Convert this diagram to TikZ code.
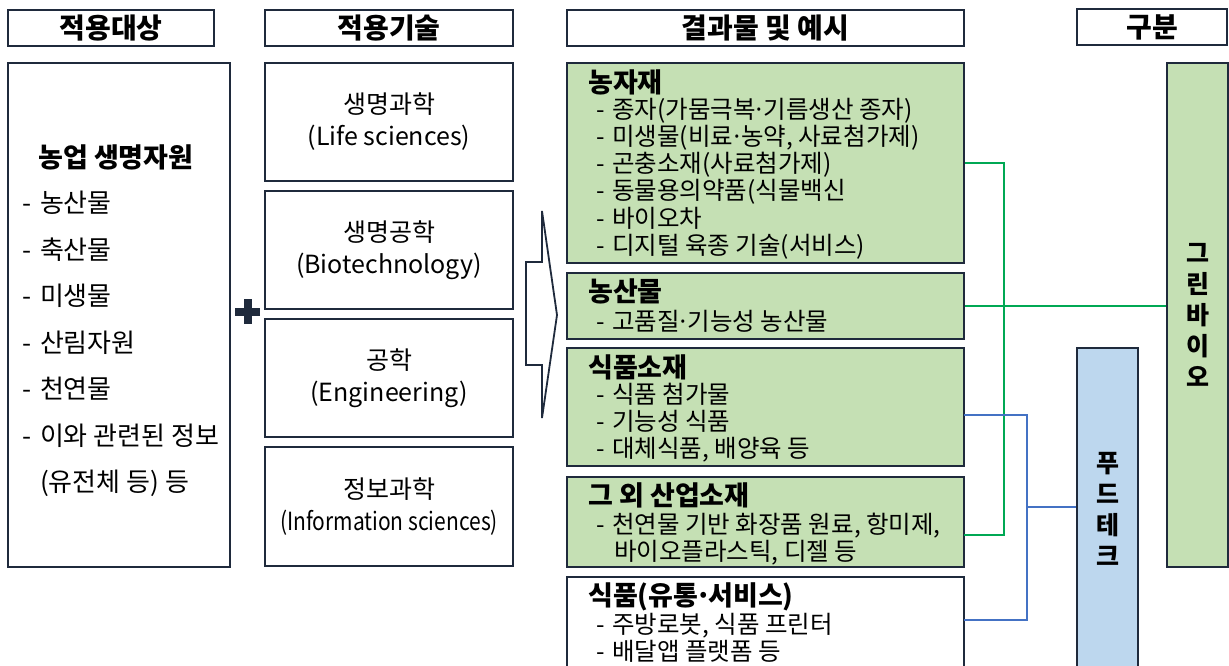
\documentclass[tikz,border=0pt]{standalone}
\usepackage{fontspec}
\setmainfont{Noto Sans CJK KR}

\definecolor{boxline}{RGB}{31,42,60}
\definecolor{gbfill}{RGB}{197,224,180}
\definecolor{ftfill}{RGB}{189,215,238}
\definecolor{glink}{RGB}{0,168,84}
\definecolor{blink}{RGB}{68,114,196}

\newcommand\mdot{\kern-0.12em·\kern-0.12em}

\tikzset{
  box/.style={draw=boxline, line width=2pt, rectangle, inner sep=0pt},
  gbox/.style={box, fill=gbfill},
  hdr/.style={box, minimum height=36pt, font=\fontsize{28}{30}\selectfont\bfseries},
  tech/.style={box, minimum width=248pt, align=center, font=\fontsize{25}{32}\selectfont},
  itm/.style={inner sep=0pt, anchor=west, text height=20pt, text depth=2pt,
    font=\fontsize{24.5}{27}\selectfont},
  ttl/.style={itm, text height=22pt, font=\fontsize{27}{27}\selectfont\bfseries},
  litm/.style={itm, text height=21pt, font=\fontsize{26}{27}\selectfont},
  vtxt/.style={align=center, inner sep=0pt, font=\fontsize{25}{31}\selectfont\bfseries},
  glk/.style={draw=glink, line width=2pt},
  blk/.style={draw=blink, line width=2pt},
}

\begin{document}
\begin{tikzpicture}[x=1pt,y=-1pt]
\useasboundingbox (0,0) rectangle (1229,665);
\clip (0,0) rectangle (1229,665);

% headers
\node[hdr, minimum width=206pt] (h-obj) at (111,28) {적용대상};
\node[hdr, minimum width=248pt] (h-tech) at (389,28) {적용기술};
\node[hdr, minimum width=397pt] (h-res) at (765.5,28) {결과물 및 예시};
\node[hdr, minimum width=150pt] (h-cat) at (1152,27) {구분};

% target resources
\node[box, minimum width=222pt, minimum height=504pt] (src) at (119,315) {};
\node[ttl] (src-t) at (38,157) {농업 생명자원};
\foreach \t [count=\i] in {농산물,축산물,미생물,산림자원,천연물,이와 관련된 정보}
  \node[litm] (src-\i) at (22,{156.5+46.5*\i}) {-\hspace{3pt} \t};
\node[litm] (src-7) at (40,482) {(유전체 등) 등};

% plus
\fill[boxline] (235,307.5) rectangle (260,315.5);
\fill[boxline] (243.7,299) rectangle (251.7,324);

% technologies
\node[tech, minimum height=118pt] (lsci) at (389,122) {생명과학\\(Life sciences)};
\node[tech, minimum height=118pt] (btech) at (389,250) {생명공학\\(Biotechnology)};
\node[tech, minimum height=118pt] (eng) at (389,378) {공학\\(Engineering)};
\node[tech, minimum height=119pt] (isci) at (389,506.5) {정보과학\\\scalebox{0.84}[1]{(Information sciences)}};

% big arrow
\draw[boxline, line width=1.8pt, fill=white, line join=miter]
  (526,262) -- (542,262) -- (542,211) -- (557,315) -- (542,418) -- (542,365) -- (526,365) -- cycle;

% results
\node[gbox, minimum width=397pt, minimum height=200pt] (njae) at (765.5,163) {};
\node[ttl] (njae-t) at (588,82) {농자재};
\foreach \t [count=\i] in {종자(가뭄극복\mdot 기름생산 종자),{미생물(비료\mdot 농약, 사료첨가제)},곤충소재(사료첨가제),동물용의약품(식물백신,바이오차,디지털 육종 기술(서비스)}
  \node[itm] (njae-\i) at (596,{82+27.2*\i}) {-\hspace{2pt} \t};

\node[gbox, minimum width=397pt, minimum height=66pt] (nsan) at (765.5,306) {};
\node[ttl] (nsan-t) at (588,291) {농산물};
\node[itm] (nsan-1) at (596,321) {-\hspace{2pt} 고품질\mdot 기능성 농산물};

\node[gbox, minimum width=397pt, minimum height=118pt] (fmat) at (765.5,407) {};
\node[ttl] (fmat-t) at (588,367) {식품소재};
\foreach \t [count=\i] in {식품 첨가물,기능성 식품,{대체식품, 배양육 등}}
  \node[itm] (fmat-\i) at (596,{367+27.3*\i}) {-\hspace{2pt} \t};

\node[gbox, minimum width=397pt, minimum height=90pt] (imat) at (765.5,522) {};
\node[ttl] (imat-t) at (588,495) {그 외 산업소재};
\node[itm] (imat-1) at (596,524) {-\hspace{2pt} 천연물 기반 화장품 원료, 항미제,};
\node[itm] (imat-2) at (614,551) {바이오플라스틱, 디젤 등};

\node[box, fill=white, minimum width=397pt, minimum height=123pt] (fsvc) at (765.5,638.5) {};
\node[ttl] (fsvc-t) at (588,595) {식품(유통\mdot 서비스)};
\node[itm] (fsvc-1) at (596,624) {-\hspace{2pt} 주방로봇, 식품 프린터};
\node[itm] (fsvc-2) at (596,651) {-\hspace{2pt} 배달앱 플랫폼 등};

% categories
\node[gbox, minimum width=61pt, minimum height=504pt] (green) at (1197.5,315) {};
\node[vtxt] (green-t) at (green.center) {그\\린\\바\\이\\오};
\node[box, fill=ftfill, minimum width=61pt, minimum height=352pt] (ftech) at (1107.5,524) {};
\node[vtxt] (ftech-t) at (1108,509) {푸\\드\\테\\크};

% links
\coordinate (imat-g) at (964,535);
\coordinate (gbus) at (1004,535);
\draw[glk] (njae.east) -| (gbus) -- (imat-g);
\draw[glk] (nsan.east) -- (nsan.east -| green.west);

\coordinate (fmat-b) at (964,415);
\coordinate (fsvc-b) at (964,620);
\coordinate (bbus) at (1027,620);
\coordinate (bmid) at (1027,507);
\draw[blk] (fmat-b) -| (bbus) -- (fsvc-b);
\draw[blk] (bmid) -- (bmid -| ftech.west);
\end{tikzpicture}
\end{document}
